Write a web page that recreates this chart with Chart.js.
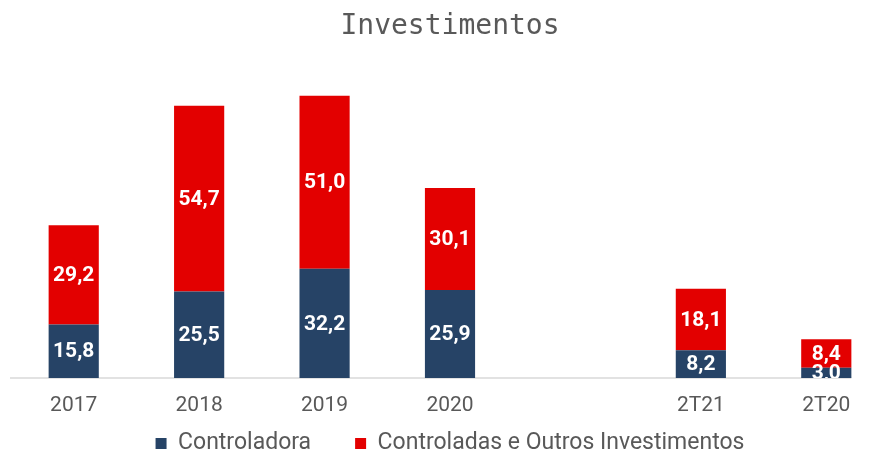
<!DOCTYPE html>
<html>
<head>
<meta charset="utf-8">
<script src="https://cdn.jsdelivr.net/npm/chart.js@4.4.0/dist/chart.umd.min.js"></script>
<style>
  html, body { margin: 0; padding: 0; background: #fff; overflow: hidden; }
  #wrap { width: 877px; height: 455px; overflow: hidden; }
  #box { width: 898px; height: 495px; }
</style>
</head>
<body>
<div id="wrap"><div id="box"><canvas id="chart"></canvas></div></div>
<script>
// periods (empty slot keeps the gap between years and quarters)
const labels = ['2017', '2018', '2019', '2020', '', '2T21', '2T20'];
const controladora = [15.8, 25.5, 32.2, 25.9, null, 8.2, 3.0];
const controladas = [29.2, 54.7, 51.0, 30.1, null, 18.1, 8.4];

const grey = '#595959';

// white values in the middle of each piece, cut at the plot area
const valueLabels = {
  id: 'valueLabels',
  afterDatasetsDraw(chart) {
    const ctx = chart.ctx;
    const area = chart.chartArea;
    ctx.save();
    ctx.beginPath();
    ctx.rect(area.left, area.top, area.right - area.left, area.bottom - area.top);
    ctx.clip();
    ctx.fillStyle = '#ffffff';
    ctx.font = 'bold 21px Roboto';
    ctx.textAlign = 'center';
    ctx.textBaseline = 'middle';
    chart.data.datasets.forEach(function(ds, i) {
      chart.getDatasetMeta(i).data.forEach(function(bar, j) {
        const v = ds.data[j];
        if (v == null) return;
        const mid = (bar.y + bar.base) / 2;
        ctx.fillText(v.toFixed(1).replace('.', ','), bar.x, mid + 1);
      });
    });
    ctx.restore();
  }
};

// base line runs from the left of the plot to the right edge of the last bar
const baseLine = {
  id: 'baseLine',
  beforeDatasetsDraw(chart) {
    const ctx = chart.ctx;
    const meta = chart.getDatasetMeta(0).data;
    const last = meta[meta.length - 1];
    const y = chart.scales.y.getPixelForValue(0);
    ctx.save();
    ctx.strokeStyle = '#d9d9d9';
    ctx.lineWidth = 1.5;
    ctx.beginPath();
    ctx.moveTo(chart.chartArea.left - 1, y);
    ctx.lineTo(last.x + last.width / 2, y);
    ctx.stroke();
    ctx.restore();
  }
};

// pull the legend up right under the axis labels
const legendUp = {
  id: 'legendUp',
  afterLayout(chart) {
    const lg = chart.legend;
    const h = lg.bottom - lg.top;
    lg.top = chart.scales.x.top + 10;
    lg.bottom = lg.top + h;
  }
};

new Chart(document.getElementById('chart'), {
  type: 'bar',
  data: {
    labels: labels,
    datasets: [
      {
        label: 'Controladora',
        data: controladora,
        backgroundColor: '#264366',
        barPercentage: 0.8,
        categoryPercentage: 0.5
      },
      {
        label: 'Controladas e Outros Investimentos',
        data: controladas,
        backgroundColor: '#e30000',
        barPercentage: 0.8,
        categoryPercentage: 0.5
      }
    ]
  },
  options: {
    responsive: true,
    maintainAspectRatio: false,
    animation: false,
    layout: { padding: { left: 11, right: 9, top: 0, bottom: 0 } },
    plugins: {
      title: {
        display: true,
        text: 'Investimentos',
        color: grey,
        font: { family: 'DejaVu Sans Mono', size: 28, weight: 'normal' },
        padding: { top: 10, bottom: 29 }
      },
      legend: {
        position: 'bottom',
        labels: {
          color: grey,
          font: { family: 'Roboto', size: 23 },
          boxWidth: 11,
          boxHeight: 11,
          padding: 44
        }
      },
      tooltip: { enabled: false }
    },
    scales: {
      x: {
        stacked: true,
        grid: { display: false, drawTicks: false },
        border: { display: false },
        ticks: {
          color: grey,
          font: { family: 'Roboto', size: 21 },
          padding: 15,
          maxRotation: 0
        },
        afterFit: function(scale) { scale.height = 40; }
      },
      y: {
        stacked: true,
        display: false,
        min: 0,
        max: 90
      }
    }
  },
  plugins: [baseLine, valueLabels, legendUp]
});
</script>
</body>
</html>
